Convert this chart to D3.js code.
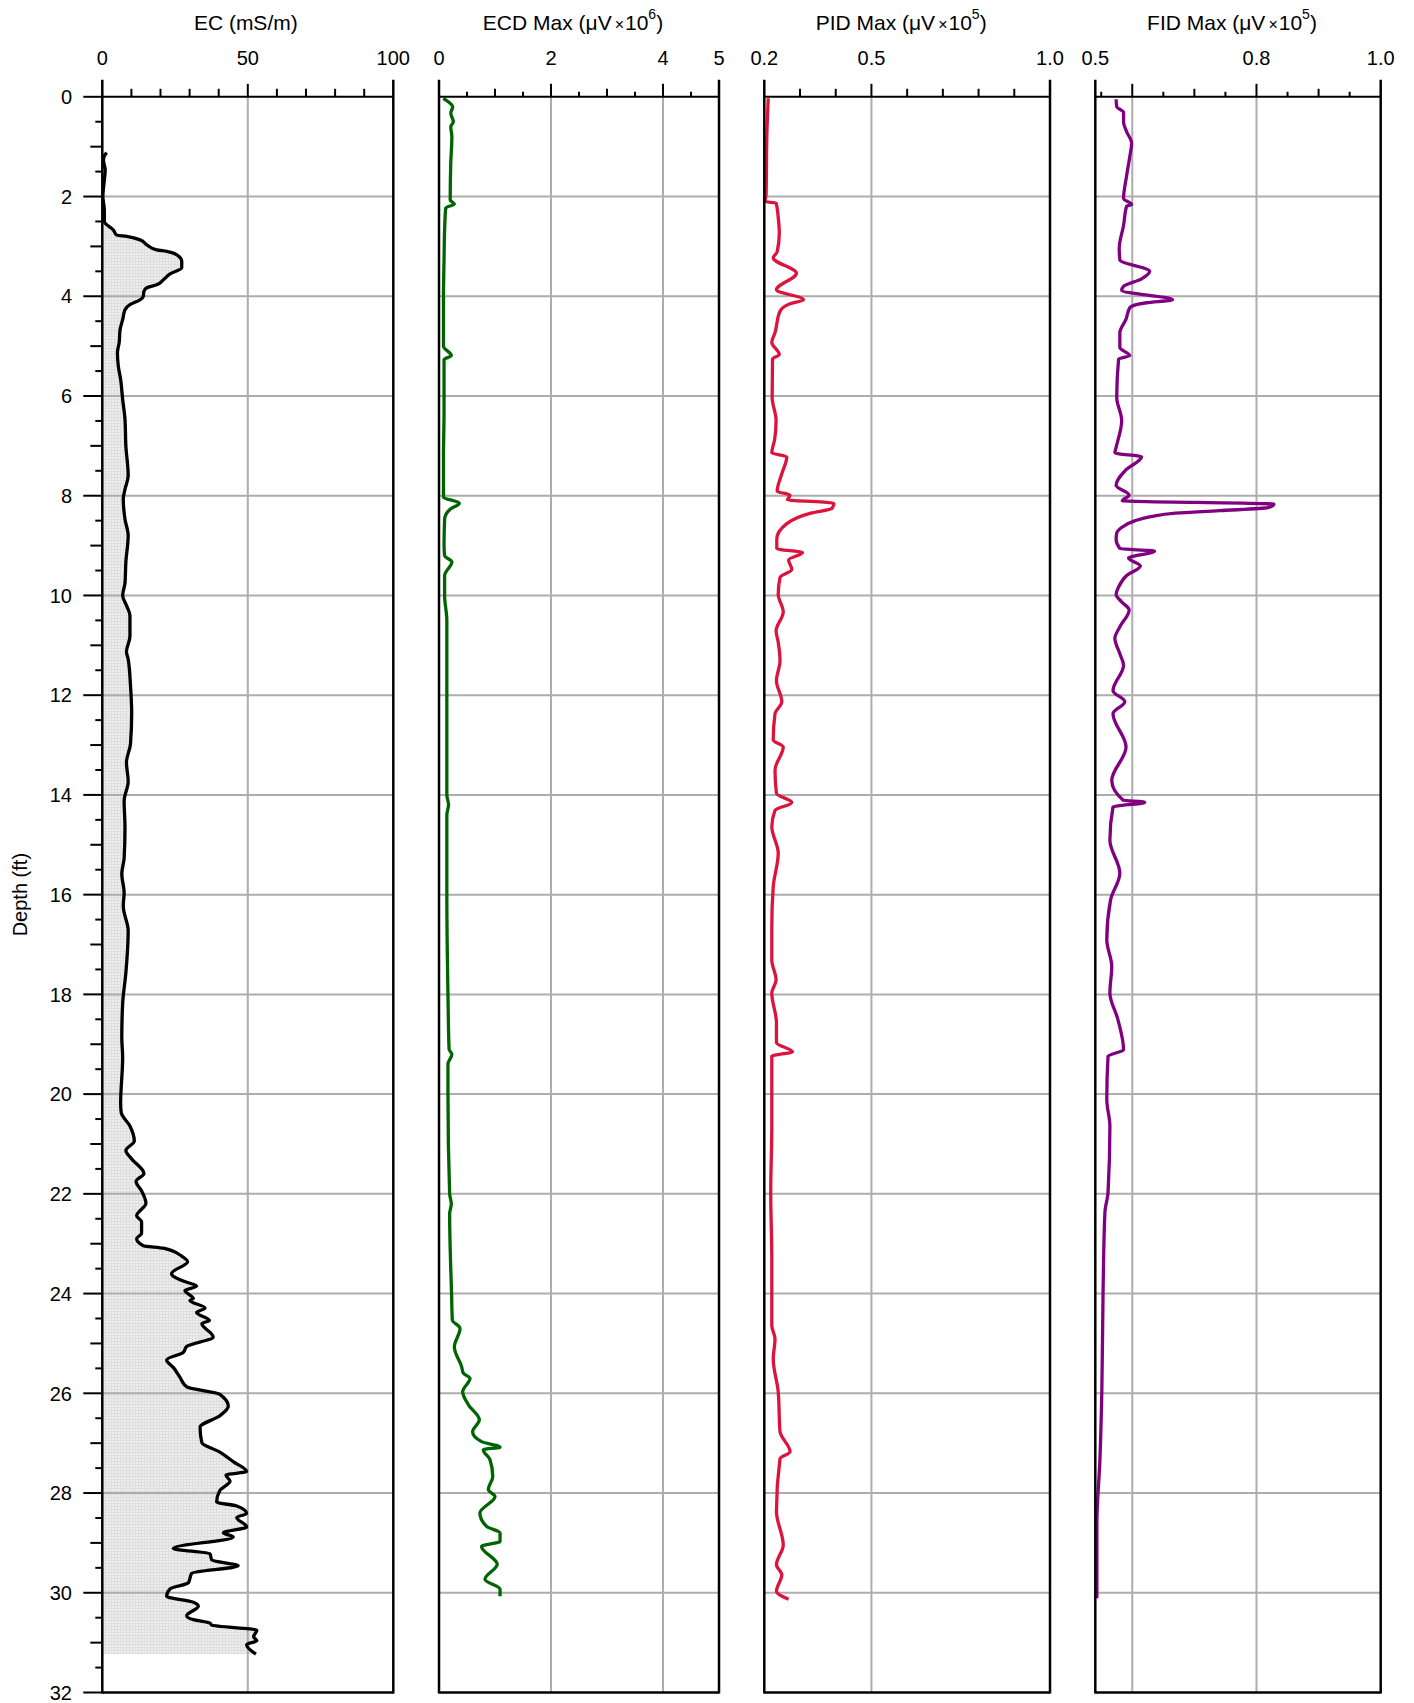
<!DOCTYPE html>
<html>
<head>
<meta charset="utf-8">
<script src="https://cdn.jsdelivr.net/npm/d3@7"></script>
<style>
  body { margin: 0; background: #fff; }
  svg { display: block; }
  text { font-family: "Liberation Sans", Arial, Helvetica, sans-serif; fill: #000; }
</style>
</head>
<body>
<svg id="chart" width="1414" height="1703"></svg>
<script>
// ---------------- DATA ----------------
const depthDomain = [0, 32];
const depthTickLabels = d3.range(0, 33, 2);

// EC (mS/m)
const ecDepth = [1.12,1.2,1.27,1.47,1.67,2.0,2.27,2.5,2.67,2.77,2.8,2.87,2.97,3.07,3.1,3.17,3.3,3.43,3.55,3.67,3.77,3.83,3.9,4.0,4.07,4.17,4.27,4.47,4.67,4.93,5.13,5.4,5.67,6.07,6.47,7.0,7.6,7.87,8.07,8.47,8.8,9.33,9.75,10.0,10.2,10.4,10.82,11.13,11.28,11.82,12.35,12.97,13.35,13.73,14.12,14.65,15.27,15.58,15.96,16.23,16.73,17.57,18.18,18.87,19.26,20.18,20.37,20.64,20.94,21.13,21.3,21.59,21.75,21.94,22.19,22.44,22.56,22.79,22.9,23.04,23.09,23.25,23.36,23.6,23.75,23.85,23.94,24.1,24.14,24.29,24.38,24.54,24.6,24.87,25.06,25.18,25.33,25.48,25.68,25.87,26.02,26.26,26.45,26.68,26.99,27.18,27.37,27.57,27.64,27.76,27.95,28.18,28.26,28.41,28.49,28.68,28.8,28.88,29.11,29.22,29.34,29.46,29.61,29.8,29.92,30.07,30.19,30.27,30.46,30.54,30.61,30.65,30.75,30.88,30.96,31.04,31.23];
const ecValue = [1.5,0.6,0.4,1.0,0.7,0.2,0.7,0.7,3.8,4.9,8.4,13,15.3,18.7,22.1,25.6,27.3,27.3,23.3,21,18.7,15.3,14.3,14.1,13,9.5,7.8,7.0,6.1,5.8,5.2,5.5,6.3,7.0,7.8,8.1,8.9,7.8,7.2,7.8,8.9,8.1,7.8,7.0,8.3,9.5,9.5,8.3,8.9,9.7,10.1,9.7,8.3,8.9,7.5,7.8,7.5,6.7,7.5,7.2,8.9,8.1,7.0,6.7,7.0,6.3,6.5,9.5,11.0,8.1,10.1,14.3,11.6,13.5,15.0,11.8,13.5,13.5,11.8,14.1,21,27.3,29.3,23.8,27.8,32.4,28.4,31.3,30.1,35.3,32.4,36.8,34.2,38.1,29.0,27.8,22.1,24.4,26.7,29.0,40.4,43.3,40.4,33.6,34.2,40.4,45.0,49.6,42.5,43.9,40.4,39.3,46.2,49.6,46.2,49.6,41.6,45.0,24.4,37.0,37.6,46.7,30.7,29.6,23.3,22.1,31.3,33.0,29.0,31.3,37.0,37.6,53.1,52.0,53.1,49.6,52.8];

// ECD Max (uV x 10^6)
const ecdDepth = [0.03,0.1,0.2,0.33,0.5,0.6,0.8,1.33,2.07,2.15,2.23,2.67,3.27,4.0,5.0,5.19,5.27,6.33,7.2,8.03,8.15,8.27,8.47,9.0,9.2,9.33,9.6,10.0,10.5,12.0,14.0,14.2,14.4,16.0,18.0,19.1,19.2,19.4,20.0,22.0,22.2,22.4,24.07,24.53,24.7,25.07,25.47,25.6,25.7,25.97,26.23,26.53,26.77,26.97,27.08,27.13,27.33,27.67,27.93,28.07,28.4,28.67,28.8,28.97,29.07,29.43,29.73,29.93,30.07];
const ecdValue = [0.077,0.166,0.244,0.21,0.256,0.21,0.23,0.21,0.2,0.274,0.12,0.1,0.09,0.08,0.08,0.22,0.09,0.09,0.08,0.08,0.363,0.2,0.1,0.09,0.1,0.23,0.1,0.1,0.14,0.14,0.14,0.17,0.14,0.14,0.16,0.18,0.23,0.16,0.16,0.19,0.22,0.19,0.226,0.238,0.375,0.274,0.405,0.435,0.554,0.423,0.524,0.72,0.6,0.76,1.09,0.79,0.91,0.96,0.88,1.0,0.73,0.85,1.09,1.09,0.76,1.04,0.82,1.09,1.09];

// PID Max (uV x 10^5)
const pidDepth = [0.03,0.81,1.96,2.1,2.13,2.42,2.73,3.11,3.23,3.54,3.87,4.07,4.15,4.3,4.73,4.92,5.17,5.26,6.03,6.49,6.87,7.14,7.22,7.56,7.91,7.99,8.08,8.15,8.25,8.35,8.56,8.87,9.06,9.14,9.29,9.48,9.64,9.98,10.33,10.71,10.94,11.31,11.71,12.13,12.37,12.9,13.04,13.5,13.97,14.15,14.31,14.64,15.17,15.84,16.64,17.31,17.71,17.97,18.57,18.97,19.15,19.24,20.64,21.97,23.31,24.64,24.91,25.31,25.97,26.77,27.17,27.31,28.37,29.04,29.44,29.64,29.97,30.13];
const pidValue = [0.211,0.207,0.205,0.202,0.233,0.239,0.242,0.236,0.225,0.29,0.234,0.31,0.272,0.244,0.23,0.221,0.242,0.223,0.222,0.233,0.229,0.221,0.263,0.249,0.236,0.272,0.265,0.395,0.39,0.33,0.263,0.235,0.235,0.307,0.268,0.277,0.244,0.239,0.253,0.233,0.239,0.244,0.234,0.249,0.23,0.225,0.253,0.23,0.234,0.277,0.23,0.221,0.239,0.225,0.221,0.221,0.233,0.221,0.234,0.234,0.279,0.221,0.221,0.218,0.221,0.221,0.23,0.225,0.239,0.244,0.272,0.244,0.234,0.253,0.234,0.249,0.234,0.268];

// FID Max (uV x 10^5)
const fidDepth = [0.05,0.2,0.31,0.51,0.7,0.93,1.2,1.58,2.04,2.16,2.19,2.58,3.04,3.27,3.5,3.65,3.8,3.88,4.07,4.13,4.23,4.46,4.73,5.03,5.19,5.26,6.03,6.49,7.03,7.14,7.22,7.49,7.79,7.99,8.1,8.17,8.24,8.3,8.35,8.42,8.5,8.62,8.75,8.87,9.06,9.11,9.25,9.41,9.6,9.83,9.98,10.13,10.29,10.63,10.86,11.17,11.4,11.91,12.13,12.37,13.04,13.71,14.1,14.15,14.24,14.91,15.57,16.11,16.91,17.44,17.97,18.51,19.11,19.24,20.11,20.64,21.97,22.37,23.97,25.97,27.31,28.64,30.11];
const fidValue = [0.574,0.575,0.586,0.586,0.591,0.599,0.596,0.591,0.586,0.599,0.591,0.586,0.579,0.58,0.628,0.615,0.586,0.583,0.665,0.623,0.596,0.59,0.58,0.58,0.596,0.578,0.575,0.583,0.574,0.572,0.615,0.589,0.574,0.595,0.584,0.828,0.818,0.74,0.67,0.63,0.605,0.585,0.575,0.574,0.58,0.636,0.594,0.613,0.591,0.578,0.574,0.583,0.595,0.58,0.572,0.58,0.586,0.569,0.588,0.569,0.59,0.567,0.585,0.62,0.569,0.564,0.58,0.565,0.559,0.567,0.564,0.577,0.586,0.561,0.559,0.564,0.561,0.556,0.553,0.551,0.548,0.543,0.543];

// Axis domains and tick labels
const ecDomain = [0, 100],   ecTickValues = [0, 50, 100],      ecTickLabels = ["0", "50", "100"];
const ecdDomain = [0, 5],    ecdTickValues = [0, 2, 4, 5],     ecdTickLabels = ["0", "2", "4", "5"];
const pidDomain = [0.2, 1.0], pidTickValues = [0.2, 0.5, 1.0], pidTickLabels = ["0.2", "0.5", "1.0"];
const fidDomain = [0.5405, 1.0], fidTickValues = [0.5405, 0.8, 1.0], fidTickLabels = ["0.5", "0.8", "1.0"];

const ecGrid = [50], ecdGrid = [2, 4], pidGrid = [0.5], fidGrid = [0.6, 0.8];
const ecMajor = [50], ecMinor = [10,20,30,40,60,70,80,90], ecSmall = [];
const ecdMajor = [2, 4], ecdMinor = [1, 3], ecdSmall = [0.5,1.5,2.5,3.5,4.5];
const pidMajor = [0.5], pidMinor = [0.3,0.4,0.6,0.7,0.8,0.9], pidSmall = [];
const fidMajor = [0.6, 0.8], fidMinor = [0.7, 0.9], fidSmall = [0.55,0.65,0.75,0.85,0.95];

// ---------------- LAYOUT ----------------
const yTop = 96.8, yBot = 1692.5;
const svg = d3.select("#chart");
const y = d3.scaleLinear().domain(depthDomain).range([yTop, yBot]);

const zip = (ds, vs) => ds.map((d, i) => ({ d, v: vs[i] }));

const panels = [
  { x0: 102.3, x1: 393.3, domain: ecDomain, tv: ecTickValues, tl: ecTickLabels, grid: ecGrid,
    major: ecMajor, minor: ecMinor, small: ecSmall, data: zip(ecDepth, ecValue), color: "#000000",
    title: "EC (mS/m)", exp: null, fill: true },
  { x0: 439, x1: 719, domain: ecdDomain, tv: ecdTickValues, tl: ecdTickLabels, grid: ecdGrid,
    major: ecdMajor, minor: ecdMinor, small: ecdSmall, data: zip(ecdDepth, ecdValue), color: "#006400",
    title: "ECD Max (\u03bcV", exp: "6" },
  { x0: 764.3, x1: 1050, domain: pidDomain, tv: pidTickValues, tl: pidTickLabels, grid: pidGrid,
    major: pidMajor, minor: pidMinor, small: pidSmall, data: zip(pidDepth, pidValue), color: "#dc143c",
    title: "PID Max (\u03bcV", exp: "5" },
  { x0: 1095.3, x1: 1380.7, domain: fidDomain, tv: fidTickValues, tl: fidTickLabels, grid: fidGrid,
    major: fidMajor, minor: fidMinor, small: fidSmall, data: zip(fidDepth, fidValue), color: "#800080",
    title: "FID Max (\u03bcV", exp: "5" }
];

// pattern for EC fill
const defs = svg.append("defs");
const pat = defs.append("pattern").attr("id", "ecfill").attr("width", 3).attr("height", 3)
  .attr("patternUnits", "userSpaceOnUse");
pat.append("rect").attr("width", 3).attr("height", 3).attr("fill", "#ededed");
pat.append("rect").attr("width", 3).attr("height", 1).attr("fill", "#dedede");
pat.append("rect").attr("width", 1).attr("height", 3).attr("fill", "#dedede");

const gridColor = "#adadad";

// Y axis (left of first panel)
const yAxisX = panels[0].x0;
const yTickG = svg.append("g");
const yTicksAll = d3.range(0, 32.01, 0.5);
yTickG.selectAll("line").data(yTicksAll).join("line")
  .attr("x1", d => yAxisX - (d % 2 === 0 ? 19 : (d % 1 === 0 ? 12 : 7)))
  .attr("x2", yAxisX)
  .attr("y1", d => y(d)).attr("y2", d => y(d))
  .attr("stroke", "#000").attr("stroke-width", 2);
yTickG.selectAll("text").data(depthTickLabels).join("text")
  .attr("x", 72).attr("y", d => y(d)).attr("dy", "0.36em")
  .attr("text-anchor", "end").style("font-size", "20px").text(d => d);

svg.append("text")
  .attr("transform", `translate(27,${(yTop + yBot) / 2}) rotate(-90)`)
  .attr("text-anchor", "middle").style("font-size", "20px").text("Depth (ft)");

panels.forEach(p => {
  const x = d3.scaleLinear().domain(p.domain).range([p.x0, p.x1]);
  const g = svg.append("g");

  // fill
  if (p.fill) {
    const area = d3.area().curve(d3.curveMonotoneY).y(d => y(d.d)).x0(x(p.domain[0])).x1(d => x(d.v));
    g.append("path").datum(p.data).attr("d", area).attr("fill", "url(#ecfill)");
  }

  // horizontal grid every 2 ft
  g.selectAll("line.hg").data(d3.range(2, 32, 2)).join("line").attr("class", "hg")
    .attr("x1", p.x0).attr("x2", p.x1).attr("y1", d => y(d)).attr("y2", d => y(d))
    .attr("stroke", gridColor).attr("stroke-width", 2);
  // vertical grid
  g.selectAll("line.vg").data(p.grid).join("line").attr("class", "vg")
    .attr("x1", d => x(d)).attr("x2", d => x(d)).attr("y1", yTop).attr("y2", yBot)
    .attr("stroke", gridColor).attr("stroke-width", 2);

  // curve
  const line = d3.line().curve(d3.curveMonotoneY).x(d => x(d.v)).y(d => y(d.d));
  g.append("path").datum(p.data).attr("d", line).attr("fill", "none")
    .attr("stroke", p.color).attr("stroke-width", 3.3)
    .attr("stroke-linejoin", "round").attr("stroke-linecap", "butt");

  // frame
  g.append("line").attr("x1", p.x0).attr("x2", p.x1).attr("y1", yTop).attr("y2", yTop)
    .attr("stroke", "#000").attr("stroke-width", 2);
  g.append("line").attr("x1", p.x0).attr("x2", p.x1).attr("y1", yBot).attr("y2", yBot)
    .attr("stroke", "#000").attr("stroke-width", 2.5);
  [p.x0, p.x1].forEach(xx => {
    g.append("line").attr("x1", xx).attr("x2", xx).attr("y1", yTop - 17).attr("y2", yBot + 1)
      .attr("stroke", "#000").attr("stroke-width", 2.5);
  });

  // top ticks
  const tickSet = [].concat(
    p.major.map(v => ({ v, h: 13 })),
    p.minor.map(v => ({ v, h: 8 })),
    p.small.map(v => ({ v, h: 5 })));
  g.selectAll("line.tk").data(tickSet).join("line").attr("class", "tk")
    .attr("x1", d => x(d.v)).attr("x2", d => x(d.v))
    .attr("y1", yTop).attr("y2", d => yTop - d.h)
    .attr("stroke", "#000").attr("stroke-width", 2);

  // tick labels
  g.selectAll("text.tl").data(p.tv).join("text").attr("class", "tl")
    .attr("x", d => x(d)).attr("y", 65).attr("text-anchor", "middle")
    .style("font-size", "20px").text((d, i) => p.tl[i]);

  // title
  const cx = (p.x0 + p.x1) / 2;
  const t = g.append("text").attr("y", 30).attr("text-anchor", "middle").style("font-size", "21px");
  if (!p.exp) {
    t.attr("x", cx - 2).text(p.title);
  } else {
    t.attr("x", cx - 6);
    t.append("tspan").text(p.title);
    t.append("tspan").attr("dx", 3).style("font-size", "16px").text("\u00d7");
    t.append("tspan").attr("dx", 1).text("10");
    t.append("tspan").attr("dy", -11).style("font-size", "14px").text(p.exp);
    t.append("tspan").attr("dy", 11).text(")");
  }
});
</script>
</body>
</html>
